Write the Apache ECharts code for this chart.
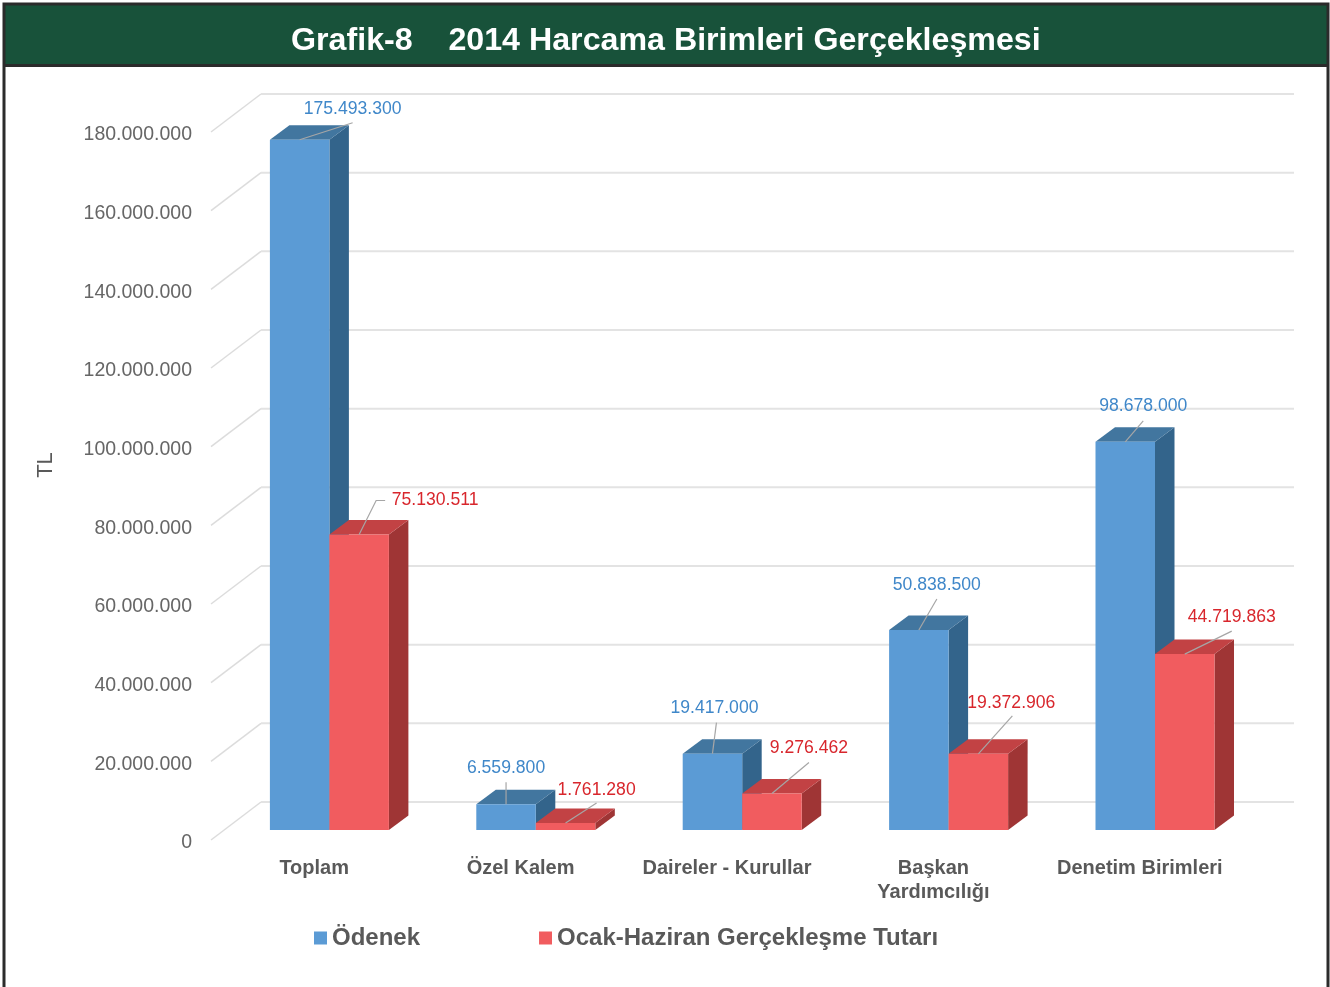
<!DOCTYPE html>
<html lang="tr">
<head>
<meta charset="utf-8">
<title>Grafik-8</title>
<script src="https://cdn.jsdelivr.net/npm/echarts@6/dist/echarts.min.js"></script>
<style>
  html, body { margin: 0; padding: 0; background: #fff; }
  #chart { width: 1330px; height: 987px; }
</style>
</head>
<body>
<div id="chart"></div>
<script>
// veriler
const categories = ['Toplam', 'Özel Kalem', 'Daireler - Kurullar', 'Başkan\nYardımcılığı', 'Denetim Birimleri'];
const odenek = [175493300, 6559800, 19417000, 50838500, 98678000];
const gerceklesme = [75130511, 1761280, 9276462, 19372906, 44719863];
const yTicks = [0, 20000000, 40000000, 60000000, 80000000, 100000000, 120000000, 140000000, 160000000, 180000000];

// 3B görünüm için sabit kaydırmalar (piksel)
const BAR_PLANE = [15.2, -13];
const DEPTH = [19.5, -14.5];
const DIAG_START = -3;
const WALL = [50, -41];
const WALL_RIGHT = 1294;
const BAR_W = 59.5;

// etiketlerin çubuk tepesine göre konumu: [metin dx, metin dy, çizgi ucu dx, çizgi ucu dy]
const blueLabelPos = [[53, -31, 53, -17], [0, -36, 0, -22], [2, -45, 4, -31], [18, -45, 18, -31], [18, -36, 18, -21]];
const redLabelPos = [[76, -34, 26, -34], [31, -33, 31, -20], [37, -45, 37, -31], [33, -51, 34, -38], [47, -37, 47, -23]];

const fmt = v => String(v).replace(/\B(?=(\d{3})+(?!\d))/g, '.');

const barRenderer = (side, colors, labelColor, labelPos) => (params, api) => {
  const i = api.value(0);
  const val = api.value(1);
  const top = api.coord([i, val]);
  const base = api.coord([i, 0]);
  const cx = top[0] + BAR_PLANE[0];
  const x0 = side < 0 ? cx - BAR_W : cx;
  const x1 = x0 + BAR_W;
  const yt = top[1] + BAR_PLANE[1];
  const yb = base[1] + BAR_PLANE[1];
  const dx = DEPTH[0], dy = DEPTH[1];
  const mid = (x0 + x1) / 2;
  const pos = labelPos[i];
  const children = [
    { type: 'polygon', shape: { points: [[x1, yt], [x1 + dx, yt + dy], [x1 + dx, yb + dy], [x1, yb]] }, style: { fill: colors.side } },
    { type: 'polygon', shape: { points: [[x0, yt], [x0 + dx, yt + dy], [x1 + dx, yt + dy], [x1, yt]] }, style: { fill: colors.top } },
    { type: 'rect', shape: { x: x0, y: yt, width: BAR_W, height: yb - yt }, style: { fill: colors.front } }
  ];
  // kırmızı Toplam etiketinin çizgisi dirsekli
  const linePts = [[mid, yt], [mid + pos[2], yt + pos[3]]];
  if (side > 0 && i === 0) {
    linePts[1] = [mid + 17, yt + pos[3]];
    linePts.push([mid + pos[2], yt + pos[3]]);
  }
  children.push({
    type: 'polyline',
    shape: { points: linePts },
    style: { stroke: '#a6a6a6', lineWidth: 1.2, fill: null }
  });
  children.push({
    type: 'text',
    style: {
      x: mid + pos[0], y: yt + pos[1], text: fmt(val),
      fill: labelColor, font: '17.6px "Liberation Sans", Arial, sans-serif',
      align: 'center', verticalAlign: 'middle'
    }
  });
  return { type: 'group', children };
};

const chart = echarts.init(document.getElementById('chart'), null, { renderer: 'canvas' });

chart.setOption({
  animation: false,
  backgroundColor: '#fff',
  title: {
    text: 'Grafik-8    2014 Harcama Birimleri Gerçekleşmesi',
    left: 286,
    top: 20.5,
    textStyle: { color: '#fff', fontSize: 32.2, fontWeight: 'bold', fontFamily: '"Liberation Sans", Arial, sans-serif' }
  },
  legend: {
    left: 309,
    top: 921,
    itemWidth: 13,
    itemHeight: 13,
    itemGap: 119,
    icon: 'rect',
    data: ['Ödenek', 'Ocak-Haziran Gerçekleşme Tutarı'],
    textStyle: { color: '#595959', fontSize: 24, fontWeight: 'bold', fontFamily: '"Liberation Sans", Arial, sans-serif' }
  },
  grid: { left: 211, width: 1032, top: 135, height: 708 },
  graphic: [
    { type: 'rect', z: -10, shape: { x: 5, y: 5, width: 1322, height: 60 }, style: { fill: '#18523a' } },
    { type: 'rect', z: -9, shape: { x: 4, y: 4, width: 1324, height: 1000 }, style: { fill: null, stroke: '#2b2b2b', lineWidth: 3 } },
    { type: 'line', z: -9, shape: { x1: 4, y1: 65.5, x2: 1328, y2: 65.5 }, style: { stroke: '#2b2b2b', lineWidth: 3 } }
  ],
  xAxis: {
    type: 'category',
    data: categories,
    axisLine: { show: false },
    axisTick: { show: false },
    axisLabel: {
      margin: 13, color: '#595959', fontSize: 20, fontWeight: 'bold', lineHeight: 24,
      interval: 0, fontFamily: '"Liberation Sans", Arial, sans-serif'
    }
  },
  yAxis: {
    type: 'value',
    min: 0,
    max: 180000000,
    interval: 20000000,
    name: 'TL',
    nameLocation: 'middle',
    nameRotate: 90,
    nameGap: 154,
    nameTextStyle: { color: '#595959', fontSize: 22, padding: [0, 0, 0, 48], fontFamily: '"Liberation Sans", Arial, sans-serif' },
    axisLine: { show: false },
    axisTick: { show: false },
    splitLine: { show: false },
    axisLabel: {
      margin: 19, color: '#666', fontSize: 19.5,
      fontFamily: '"Liberation Sans", Arial, sans-serif',
      formatter: fmt
    }
  },
  series: [
    {
      // arka duvar çizgileri
      name: 'duvar',
      type: 'custom',
      silent: true,
      z: 1,
      data: yTicks.map(v => [0, v]),
      encode: { x: 0, y: 1 },
      renderItem: (params, api) => {
        const p = api.coord([0, api.value(1)]);
        const x = params.coordSys.x;
        const y = p[1];
        return {
          type: 'group',
          children: [
            { type: 'line', shape: { x1: x, y1: y + DIAG_START, x2: x + WALL[0], y2: y + WALL[1] }, style: { stroke: '#dcdcdc', lineWidth: 1.5 } },
            { type: 'line', shape: { x1: x + WALL[0], y1: y + WALL[1], x2: WALL_RIGHT, y2: y + WALL[1] }, style: { stroke: '#e3e3e3', lineWidth: 2 } }
          ]
        };
      }
    },
    {
      name: 'Ödenek',
      type: 'custom',
      z: 2,
      itemStyle: { color: '#5b9bd5' },
      data: odenek.map((v, i) => [i, v]),
      encode: { x: 0, y: 1 },
      renderItem: barRenderer(-1, { front: '#5b9bd5', top: '#42769f', side: '#33648b' }, '#3f87c9', blueLabelPos)
    },
    {
      name: 'Ocak-Haziran Gerçekleşme Tutarı',
      type: 'custom',
      z: 3,
      itemStyle: { color: '#f15c5f' },
      data: gerceklesme.map((v, i) => [i, v]),
      encode: { x: 0, y: 1 },
      renderItem: barRenderer(1, { front: '#f15c5f', top: '#c24244', side: '#9f3535' }, '#d8262c', redLabelPos)
    }
  ]
});

window.addEventListener('resize', () => chart.resize());
</script>
</body>
</html>
